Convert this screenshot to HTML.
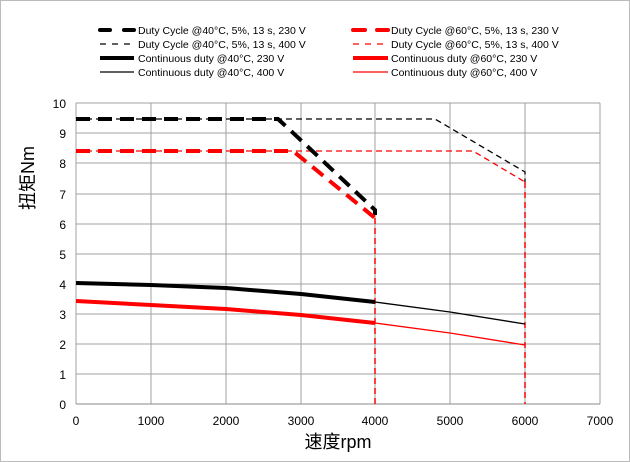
<!DOCTYPE html>
<html><head><meta charset="utf-8"><style>
body{margin:0;background:#fff}
svg{display:block;font-family:"Liberation Sans","Noto Sans CJK SC",sans-serif}
</style></head><body>
<svg width="630" height="462" viewBox="0 0 630 462" xmlns="http://www.w3.org/2000/svg">
<rect x="0.5" y="0.5" width="629" height="461" fill="#fff" stroke="#bbb"/>
<g stroke="#a0a0a0" stroke-width="1">
<line x1="76" y1="103" x2="600" y2="103"/><line x1="76" y1="133" x2="600" y2="133"/><line x1="76" y1="163" x2="600" y2="163"/><line x1="76" y1="194" x2="600" y2="194"/><line x1="76" y1="224" x2="600" y2="224"/><line x1="76" y1="254" x2="600" y2="254"/><line x1="76" y1="284" x2="600" y2="284"/><line x1="76" y1="314" x2="600" y2="314"/><line x1="76" y1="344" x2="600" y2="344"/><line x1="76" y1="374" x2="600" y2="374"/>
<line x1="151" y1="103" x2="151" y2="404"/><line x1="226" y1="103" x2="226" y2="404"/><line x1="301" y1="103" x2="301" y2="404"/><line x1="375" y1="103" x2="375" y2="404"/><line x1="450" y1="103" x2="450" y2="404"/><line x1="525" y1="103" x2="525" y2="404"/><line x1="600" y1="103" x2="600" y2="404"/>
<line x1="76" y1="103" x2="76" y2="404"/>
</g>
<line x1="76" y1="404" x2="600" y2="404" stroke="#888"/>
<g font-size="12" fill="#000" text-anchor="end">
<text x="66" y="108">10</text><text x="66" y="138">9</text><text x="66" y="168">8</text><text x="66" y="199">7</text><text x="66" y="229">6</text><text x="66" y="259">5</text><text x="66" y="289">4</text><text x="66" y="319">3</text><text x="66" y="349">2</text><text x="66" y="379">1</text><text x="66" y="409">0</text>
</g>
<g font-size="12" fill="#000" text-anchor="middle">
<text x="76" y="425">0</text><text x="151" y="425">1000</text><text x="226" y="425">2000</text><text x="301" y="425">3000</text><text x="375" y="425">4000</text><text x="450" y="425">5000</text><text x="525" y="425">6000</text><text x="600" y="425">7000</text>
</g>
<text x="338" y="448" font-size="18" text-anchor="middle">速度rpm</text>
<text transform="translate(34,178) rotate(-90)" font-size="18" text-anchor="middle">扭矩Nm</text>
<!-- vertical red dashed -->
<line x1="375" y1="218" x2="375" y2="404" stroke="#f00" stroke-width="1.5" stroke-dasharray="6,4"/>
<line x1="525" y1="182" x2="525" y2="404" stroke="#f00" stroke-width="1.5" stroke-dasharray="6,4"/>
<!-- continuous -->
<polyline points="375,302 450,312 525,324" fill="none" stroke="#000" stroke-width="1.3"/>
<polyline points="375,323 450,333 525,345" fill="none" stroke="#f00" stroke-width="1.3"/>
<polyline points="76,283 151,285 226,288 301,294 375,302" fill="none" stroke="#000" stroke-width="4"/>
<polyline points="76,301 151,305 226,309 301,315 375,323" fill="none" stroke="#f00" stroke-width="4"/>
<!-- duty 400 -->
<polyline points="76,119 435,119 525,172 525,182" fill="none" stroke="#000" stroke-width="1.3" stroke-dasharray="6,4"/>
<polyline points="76,151 473,151 525,182" fill="none" stroke="#f00" stroke-width="1.3" stroke-dasharray="6,4"/>
<!-- duty 230 -->
<polyline points="76,119 278,119 290,130 375,210 375,215" fill="none" stroke="#000" stroke-width="4" stroke-dasharray="14,8"/>
<polyline points="76,151 293,151 375,218" fill="none" stroke="#f00" stroke-width="4" stroke-dasharray="14,8"/>
<!-- legend -->
<g font-size="10.5" fill="#000">
<line x1="100" y1="30" x2="134" y2="30" stroke="#000" stroke-width="4" stroke-dasharray="10,14" stroke-linecap="round"/>
<text x="138" y="34">Duty Cycle @40°C, 5%, 13 s, 230 V</text>
<line x1="100" y1="44" x2="134" y2="44" stroke="#000" stroke-width="1.3" stroke-dasharray="6,6"/>
<text x="138" y="48">Duty Cycle @40°C, 5%, 13 s, 400 V</text>
<line x1="100" y1="58" x2="134" y2="58" stroke="#000" stroke-width="4"/>
<text x="138" y="62">Continuous duty @40°C, 230 V</text>
<line x1="100" y1="72" x2="134" y2="72" stroke="#000" stroke-width="1.3"/>
<text x="138" y="76">Continuous duty @40°C, 400 V</text>
<line x1="353" y1="30" x2="388" y2="30" stroke="#f00" stroke-width="4" stroke-dasharray="12,12" stroke-linecap="round"/>
<text x="391" y="34">Duty Cycle @60°C, 5%, 13 s, 230 V</text>
<line x1="353" y1="44" x2="388" y2="44" stroke="#f00" stroke-width="1.3" stroke-dasharray="6,6"/>
<text x="391" y="48">Duty Cycle @60°C, 5%, 13 s, 400 V</text>
<line x1="353" y1="58" x2="388" y2="58" stroke="#f00" stroke-width="4"/>
<text x="391" y="62">Continuous duty @60°C, 230 V</text>
<line x1="353" y1="72" x2="388" y2="72" stroke="#f00" stroke-width="1.3"/>
<text x="391" y="76">Continuous duty @60°C, 400 V</text>
</g>
</svg>
</body></html>
